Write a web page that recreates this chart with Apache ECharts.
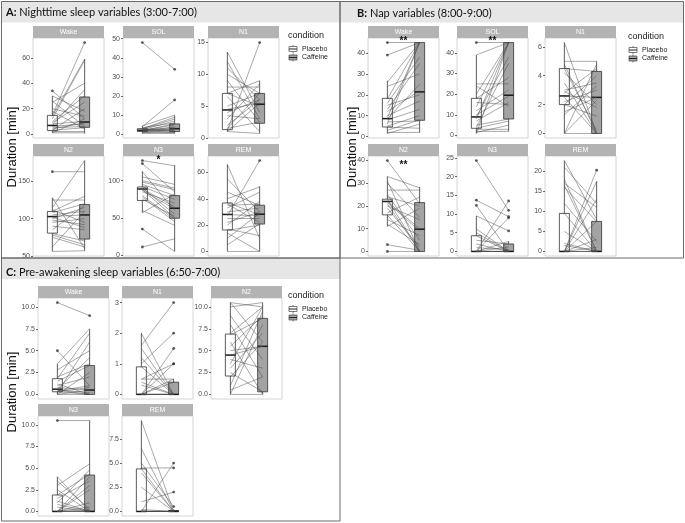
<!DOCTYPE html>
<html>
<head>
<meta charset="utf-8">
<script src="https://cdn.jsdelivr.net/npm/echarts@6/dist/echarts.min.js"></script>
<style>
  html, body { margin: 0; padding: 0; background: #fff; }
  #main { width: 685px; height: 523px; }
</style>
</head>
<body>
<div id="main"></div>
<script>
  // per subject durations in minutes: placebo / caffeine, same order
  // boxes: [lower whisker, Q1, median, Q3, upper whisker] for placebo, caffeine

  // A: nighttime 3:00-7:00
  const aWakePla = [34, 30, 25, 20, 15, 14, 12, 10, 9, 8, 7, 6, 5, 4, 3, 3, 2, 1, 18, 26, 1];
  const aWakeCaf = [12, 18, 40, 14, 72, 59, 58, 30, 25, 10, 35, 8, 6, 9, 20, 5, 2, 1, 4, 6, 12];
  const aWakeBox = [[1, 2.8, 6.8, 14.7, 30], [0.5, 5.3, 9.5, 29.2, 59]];
  const aWakeTicks = [0, 20, 40, 60];

  const aSolPla = [48, 4, 4.5, 3, 3, 2.5, 3.5, 2, 2, 1.5, 2.5, 2, 1.5, 1, 3, 2, 1, 0.5, 2.5, 1.5];
  const aSolCaf = [34, 18, 10, 9, 8, 7, 6, 5.5, 5, 4, 3.5, 3, 2.5, 2, 1.5, 1, 1, 0.5, 2, 3];
  const aSolBox = [[0.5, 1.5, 2.2, 3, 4.5], [0.5, 1.5, 3, 5.5, 10]];
  const aSolTicks = [0, 10, 20, 30, 40, 50];

  const aN1Pla = [13.5, 12, 11, 10, 9, 8, 7, 7, 6.5, 5, 4.5, 4, 3.5, 3, 2, 1.5, 1.5, 1.2, 1, 1];
  const aN1Caf = [4, 3, 6, 7, 2.5, 8, 5, 9, 1, 7, 5.5, 6, 3, 8.5, 6, 7, 2.5, 15, 5.5, 0.7];
  const aN1Box = [[1, 1.3, 4.4, 7, 13.5], [0.7, 2.3, 5.3, 7, 9]];
  const aN1Ticks = [0, 5, 10, 15];

  const aN2Pla = [163, 128, 125, 115, 112, 110, 108, 105, 103, 102, 100, 98, 95, 90, 85, 80, 78, 75, 62, 56];
  const aN2Caf = [163, 60, 125, 178, 95, 130, 120, 110, 105, 88, 115, 92, 100, 85, 118, 70, 65, 62, 110, 57];
  const aN2Box = [[56, 80.6, 102.8, 109.7, 128], [57, 72.6, 105, 118.9, 178]];
  const aN2Ticks = [50, 100, 150];

  const aN3Pla = [127, 123, 112, 105, 100, 95, 92, 90, 89, 88, 87, 85, 80, 78, 75, 60, 57, 35, 11, 98];
  const aN3Caf = [120, 85, 60, 95, 90, 80, 75, 55, 65, 50, 62, 70, 48, 45, 52, 40, 82, 5, 22, 88];
  const aN3Box = [[57, 73.4, 88.8, 91.5, 112.6], [5, 49.6, 63, 80, 120.7]];
  const aN3Ticks = [0, 50, 100];

  const aRemPla = [66, 55, 45, 40, 37, 36, 35, 33, 30, 28, 27, 25, 22, 20, 17, 16, 14, 10, 5, 0];
  const aRemCaf = [10, 30, 35, 49, 28, 22, 36, 45, 33, 27, 69, 25, 30, 38, 12, 20, 0, 29, 21, 0];
  const aRemBox = [[0, 16.3, 28.1, 36.8, 66], [0, 20.8, 28.3, 35.1, 49.4]];
  const aRemTicks = [0, 20, 40, 60];

  // B: nap 8:00-9:00
  const bWakePla = [45, 39, 26, 24, 18, 16, 15, 13, 12, 10, 9, 8.5, 8, 7, 6, 5, 4.5, 3, 2, 1.5];
  const bWakeCaf = [45, 45, 45, 30, 45, 38, 20, 35, 22, 17, 45, 25, 13, 7.5, 45, 10, 4, 8, 2, 6];
  const bWakeBox = [[1.5, 4.6, 8.6, 18.3, 26.7], [2, 7.8, 21.4, 45, 45]];
  const bWakeTicks = [0, 10, 20, 30, 40];

  const bSolPla = [45, 39, 25, 24, 20, 18, 16, 14, 12, 10, 9, 8, 7, 5, 4, 3.5, 3, 2, 1, 1.5];
  const bSolCaf = [45, 45, 25, 14, 45, 28, 15, 45, 22, 19, 38, 45, 16, 8, 35, 7, 3, 2, 45, 5];
  const bSolBox = [[1, 3.5, 9, 18, 39], [2, 8, 19.5, 45, 45]];
  const bSolTicks = [0, 10, 20, 30, 40];

  const bN1Pla = [6.3, 5, 4.8, 4.5, 4.2, 3.5, 3, 2.8, 2.6, 2.5, 2.2, 2, 2, 1.5, 1.3, 0, 0, 4.5, 2.9, 0];
  const bN1Caf = [0, 5, 0, 4.3, 2, 0, 3.5, 4.5, 2.5, 0, 3, 4, 1.2, 2.5, 3.3, 4.8, 2.3, 0.2, 1.8, 0];
  const bN1Box = [[0, 2, 2.6, 4.5, 6.3], [0, 0, 2.5, 4.3, 5]];
  const bN1Ticks = [0, 2, 4, 6];

  const bN2Pla = [40, 33, 31, 30, 27, 25, 24, 23, 22, 21.5, 21, 20, 19, 17, 16, 14, 12, 11, 3, 0];
  const bN2Caf = [21, 28, 0, 15, 27, 5, 20, 0, 10, 9, 0, 14, 2, 24, 0, 7, 3, 19, 0.5, 0];
  const bN2Box = [[11, 16.1, 22, 23, 33], [0, 0, 9.8, 21.5, 28.3]];
  const bN2Ticks = [0, 10, 20, 30, 40];

  const bN3Pla = [24.3, 13.7, 12.3, 9.5, 6, 4.2, 3, 2, 1, 0, 0, 0, 0, 0, 0, 0, 5, 0, 0, 0];
  const bN3Caf = [11, 9.3, 0, 5.5, 0, 0, 2, 0, 0.5, 13.5, 9, 2.7, 0, 0, 0, 0, 0, 1.2, 0, 0];
  const bN3Box = [[0, 0, 0, 4.2, 9.5], [0, 0, 0, 2, 2.7]];
  const bN3Ticks = [0, 5, 10, 15, 20, 25];

  const bRemPla = [22.7, 21, 18, 17, 16.5, 16, 12, 9.5, 5, 1.5, 0, 0, 0, 0, 0, 0, 0, 0, 0, 2];
  const bRemCaf = [8, 12, 0, 11, 0, 7.5, 2.5, 0, 0, 0, 20.3, 17.5, 13, 7.5, 3, 0, 0, 1, 0, 0];
  const bRemBox = [[0, 0, 0, 9.5, 22.7], [0, 0, 0, 7.5, 17.5]];
  const bRemTicks = [0, 5, 10, 15, 20];

  // C: pre-awakening 6:50-7:00
  const cWakePla = [10.5, 5, 3.5, 2.8, 2, 1.8, 1.5, 1.2, 1, 0.8, 0.6, 0.5, 0.4, 0.3, 0.2, 0, 0, 0.5, 0, 0.3];
  const cWakeCaf = [9, 1, 7.5, 5, 3.5, 7, 3.3, 0, 2, 0.5, 4.2, 0, 1, 0, 6, 0.5, 2.5, 0.2, 0, 0.8];
  const cWakeBox = [[0, 0.3, 0.6, 1.8, 3.5], [0, 0, 0.5, 3.3, 7.5]];
  const cWakeTicks = [0, 2.5, 5, 7.5, 10];

  const cN1Pla = [2, 1.6, 1.5, 1, 0.9, 0.5, 0.5, 0.4, 0, 0, 0, 0, 0, 1.2, 0.3, 0, 0, 0, 0, 0];
  const cN1Caf = [0, 3, 0, 2, 0, 1, 0.5, 0, 1.5, 1, 0.4, 0, 0, 0, 0, 0, 0.5, 0, 0, 0];
  const cN1Box = [[0, 0, 0, 0.9, 2], [0, 0, 0, 0.4, 0.5]];
  const cN1Ticks = [0, 1, 2, 3];

  const cN2Pla = [10.5, 10.5, 10, 9, 8, 7, 6.8, 6, 5.5, 5, 4.5, 4, 3.5, 3, 2.5, 2, 1, 0.5, 0, 0];
  const cN2Caf = [10, 6, 10.5, 4, 2, 10, 8.7, 0, 9, 5.5, 5.5, 3, 10, 7, 0.3, 6, 9.5, 2, 0, 8];
  const cN2Box = [[0, 2.1, 4.5, 6.9, 10.5], [0, 0.3, 5.5, 8.7, 10.5]];
  const cN2Ticks = [0, 2.5, 5, 7.5, 10];

  const cN3Pla = [10.5, 4, 3.5, 3, 2.5, 1.9, 1.5, 1.2, 1, 0.8, 0, 0, 0, 0, 0, 0, 0.5, 0, 0, 0];
  const cN3Caf = [10.5, 0, 0.3, 5.5, 0, 4.3, 3.5, 0, 4.8, 0, 2.5, 1, 0.2, 0, 0, 4, 0, 0.5, 0, 3];
  const cN3Box = [[0, 0, 0, 1.9, 4], [0, 0, 0, 4.2, 10.5]];
  const cN3Ticks = [0, 2.5, 5, 7.5, 10];

  const cRemPla = [9.4, 6.5, 5, 4.5, 4.4, 4, 2.5, 1, 0.2, 0, 0, 0, 0, 0, 0, 0, 0, 0, 0, 0];
  const cRemCaf = [0, 0, 0.5, 4.5, 0, 0, 0, 2, 0, 5, 0, 0, 0, 0, 0, 0, 0, 0, 0, 0];
  const cRemBox = [[0, 0, 0, 4.4, 9.4], [0, 0, 0, 0.1, 0.2]];
  const cRemTicks = [0, 2.5, 5, 7.5];

  const conditions = ['Placebo', 'Caffeine'];

  // facet layout (pixels)
  const W = 71;
  const panels = [
    { label: 'Wake', pla: aWakePla, caf: aWakeCaf, box: aWakeBox, ticks: aWakeTicks, left: 33, top: 38, h: 100 },
    { label: 'SOL', pla: aSolPla, caf: aSolCaf, box: aSolBox, ticks: aSolTicks, left: 123, top: 38, h: 100 },
    { label: 'N1', pla: aN1Pla, caf: aN1Caf, box: aN1Box, ticks: aN1Ticks, left: 208, top: 38, h: 100 },
    { label: 'N2', pla: aN2Pla, caf: aN2Caf, box: aN2Box, ticks: aN2Ticks, left: 33, top: 156, h: 100 },
    { label: 'N3', pla: aN3Pla, caf: aN3Caf, box: aN3Box, ticks: aN3Ticks, left: 123, top: 156, h: 100, sig: ['*', 130] },
    { label: 'REM', pla: aRemPla, caf: aRemCaf, box: aRemBox, ticks: aRemTicks, left: 208, top: 156, h: 100 },

    { label: 'Wake', pla: bWakePla, caf: bWakeCaf, box: bWakeBox, ticks: bWakeTicks, left: 368, top: 38, h: 100, sig: ['**', 46.6] },
    { label: 'SOL', pla: bSolPla, caf: bSolCaf, box: bSolBox, ticks: bSolTicks, left: 457, top: 38, h: 100, sig: ['**', 46.6] },
    { label: 'N1', pla: bN1Pla, caf: bN1Caf, box: bN1Box, ticks: bN1Ticks, left: 545, top: 38, h: 100 },
    { label: 'N2', pla: bN2Pla, caf: bN2Caf, box: bN2Box, ticks: bN2Ticks, left: 368, top: 156, h: 100, sig: ['**', 39] },
    { label: 'N3', pla: bN3Pla, caf: bN3Caf, box: bN3Box, ticks: bN3Ticks, left: 457, top: 156, h: 100 },
    { label: 'REM', pla: bRemPla, caf: bRemCaf, box: bRemBox, ticks: bRemTicks, left: 545, top: 156, h: 100 },

    { label: 'Wake', pla: cWakePla, caf: cWakeCaf, box: cWakeBox, ticks: cWakeTicks, left: 38, top: 298, h: 101, dec: 1 },
    { label: 'N1', pla: cN1Pla, caf: cN1Caf, box: cN1Box, ticks: cN1Ticks, left: 122, top: 298, h: 101 },
    { label: 'N2', pla: cN2Pla, caf: cN2Caf, box: cN2Box, ticks: cN2Ticks, left: 211, top: 298, h: 101, dec: 1 },
    { label: 'N3', pla: cN3Pla, caf: cN3Caf, box: cN3Box, ticks: cN3Ticks, left: 38, top: 416, h: 100, dec: 1 },
    { label: 'REM', pla: cRemPla, caf: cRemCaf, box: cRemBox, ticks: cRemTicks, left: 122, top: 416, h: 100, dec: 1 }
  ];

  const LINE = '#4a4a4a';
  const CAF_FILL = '#a3a3a3';

  function yRange(p) {
    const all = p.pla.concat(p.caf, p.box[0], p.box[1]);
    const lo = Math.min(...all), hi = Math.max(...all);
    const pad = (hi - lo) * 0.05;
    return [lo - pad, hi + pad];
  }

  function renderBox(params, api) {
    const x = api.value(0);
    const pt = k => api.coord([x, api.value(k)]);
    const lo = pt(1), q1 = pt(2), md = pt(3), q3 = pt(4), hi = pt(5);
    const hw = 5;
    const fill = params.dataIndex === 0 ? '#fff' : CAF_FILL;
    return {
      type: 'group',
      children: [
        { type: 'line', shape: { x1: lo[0], y1: lo[1], x2: hi[0], y2: hi[1] }, style: { stroke: '#333', lineWidth: 0.8 } },
        { type: 'rect', shape: { x: q3[0] - hw, y: q3[1], width: hw * 2, height: Math.max(q1[1] - q3[1], 0.5) },
          style: { fill: fill, stroke: '#333', lineWidth: 0.8 } },
        { type: 'line', shape: { x1: md[0] - hw, y1: md[1], x2: md[0] + hw, y2: md[1] }, style: { stroke: '#1a1a1a', lineWidth: 1.5 } }
      ]
    };
  }

  function renderPair(params, api) {
    const a = api.coord([api.value(0), api.value(1)]);
    const b = api.coord([api.value(2), api.value(3)]);
    return {
      type: 'line',
      shape: { x1: a[0], y1: a[1], x2: b[0], y2: b[1] },
      style: { stroke: LINE, lineWidth: 0.6, opacity: 0.8 }
    };
  }

  const grid = [], xAxis = [], yAxis = [], series = [];

  panels.forEach((p, i) => {
    const r = yRange(p);
    grid.push({ left: p.left, top: p.top, width: W, height: p.h, show: true, borderColor: '#d4d4d4', borderWidth: 1, backgroundColor: '#fff' });
    xAxis.push({ gridIndex: i, type: 'value', min: 0.4, max: 2.6, show: false });
    yAxis.push({
      gridIndex: i, type: 'value', min: r[0], max: r[1],
      axisLine: { show: false },
      splitLine: { show: false },
      axisTick: { show: true, length: 2, customValues: p.ticks, lineStyle: { color: '#444', width: 0.8 } },
      axisLabel: {
        customValues: p.ticks, fontSize: 7, color: '#4d4d4d', margin: 3,
        fontFamily: 'Liberation Sans, Arial, sans-serif',
        formatter: v => p.dec ? Number(v).toFixed(1) : String(v)
      }
    });

    series.push({
      type: 'custom', name: p.label, xAxisIndex: i, yAxisIndex: i, z: 2, silent: true,
      data: conditions.map((c, k) => [k + 1].concat(p.box[k])),
      encode: { x: 0, y: [1, 2, 3, 4, 5] },
      renderItem: renderBox
    });
    series.push({
      type: 'custom', xAxisIndex: i, yAxisIndex: i, z: 3, silent: true,
      data: p.pla.map((v, k) => [1, v, 2, p.caf[k]]),
      encode: { x: [0, 2], y: [1, 3] },
      renderItem: renderPair
    });

    const outliers = [];
    [p.pla, p.caf].forEach((vals, k) => {
      vals.forEach(v => {
        if (v < p.box[k][0] || v > p.box[k][4]) outliers.push([k + 1, v]);
      });
    });
    series.push({
      type: 'scatter', xAxisIndex: i, yAxisIndex: i, z: 4, silent: true,
      symbolSize: 2.8, itemStyle: { color: '#333' }, data: outliers
    });

    if (p.sig) {
      const sig = p.sig;
      series.push({
        type: 'custom', xAxisIndex: i, yAxisIndex: i, z: 5, silent: true,
        data: [[1.5, sig[1]]],
        renderItem: (params, api) => {
          const c = api.coord([api.value(0), api.value(1)]);
          return { type: 'text', x: c[0], y: c[1] + 2,
            style: { text: sig[0], fontSize: 10, fontWeight: 'bold', align: 'center', verticalAlign: 'middle', fill: '#111' } };
        }
      });
    }
  });

  // frames, headers, strips, legends
  const graphic = [];
  const sections = [
    { x: 1.5, y: 1.5, w: 338.5, h: 256.5, bold: 'A:', text: ' Nighttime sleep variables (3:00-7:00)', tx: 6, ty: 12, ly: 36, lx: 288, yt: 12, ymid: 147 },
    { x: 340, y: 1.5, w: 343.5, h: 256.5, bold: 'B:', text: ' Nap variables (8:00-9:00)', tx: 357, ty: 13, ly: 37, lx: 628, yt: 352, ymid: 147 },
    { x: 1.5, y: 258, w: 338.5, h: 263, bold: 'C:', text: ' Pre-awakening sleep variables (6:50-7:00)', tx: 6, ty: 272, ly: 296, lx: 288, yt: 12, ymid: 392 }
  ];
  sections.forEach(s => {
    graphic.push({ type: 'rect', z: 0, shape: { x: s.x, y: s.y, width: s.w, height: 21 }, style: { fill: '#e6e6e6' } });
    graphic.push({ type: 'rect', z: 1, shape: { x: s.x, y: s.y, width: s.w, height: s.h }, style: { fill: 'none', stroke: '#6a6a6a', lineWidth: 1 } });
    graphic.push({
      type: 'text', x: s.tx, y: s.ty, z: 2,
      style: {
        text: '{b|' + s.bold + '}' + s.text, verticalAlign: 'middle',
        font: '11px Lato, sans-serif', fill: '#111',
        rich: { b: { fontWeight: 'bold', fontSize: 11, fontFamily: 'Lato' } }
      }
    });
    graphic.push({
      type: 'text', x: s.yt, y: s.ymid, rotation: Math.PI / 2, z: 2,
      style: { text: 'Duration [min]', font: '13px "Liberation Sans", Arial, sans-serif', fill: '#111', align: 'center', verticalAlign: 'middle' }
    });
    graphic.push({ type: 'text', x: s.lx, y: s.ly, z: 2,
      style: { text: 'condition', font: '9px "Liberation Sans", Arial, sans-serif', fill: '#222', verticalAlign: 'middle' } });
    conditions.forEach((c, k) => {
      const yy = s.ly + 13 + k * 8.5;
      const ix = s.lx + 1;
      graphic.push({ type: 'line', z: 2, shape: { x1: ix + 4, y1: yy - 4, x2: ix + 4, y2: yy + 4 }, style: { stroke: '#444', lineWidth: 0.7 } });
      graphic.push({ type: 'rect', z: 2, shape: { x: ix, y: yy - 2.5, width: 8, height: 5 }, style: { fill: k ? CAF_FILL : '#fff', stroke: '#444', lineWidth: 0.7 } });
      graphic.push({ type: 'line', z: 2, shape: { x1: ix, y1: yy, x2: ix + 8, y2: yy }, style: { stroke: '#222', lineWidth: 1 } });
      graphic.push({ type: 'text', x: ix + 13, y: yy, z: 2,
        style: { text: c, font: '7px "Liberation Sans", Arial, sans-serif', fill: '#222', verticalAlign: 'middle' } });
    });
  });
  panels.forEach(p => {
    graphic.push({ type: 'rect', z: 2, shape: { x: p.left, y: p.top - 12, width: W, height: 12 }, style: { fill: '#b3b3b3' } });
    graphic.push({ type: 'text', z: 3, x: p.left + W / 2, y: p.top - 6,
      style: { text: p.label, font: '7px "Liberation Sans", Arial, sans-serif', fill: '#fff', align: 'center', verticalAlign: 'middle' } });
  });

  const chart = echarts.init(document.getElementById('main'), null, { renderer: 'canvas' });
  chart.setOption({
    animation: false,
    backgroundColor: '#fff',
    grid: grid,
    xAxis: xAxis,
    yAxis: yAxis,
    series: series,
    graphic: graphic
  });
</script>
</body>
</html>
